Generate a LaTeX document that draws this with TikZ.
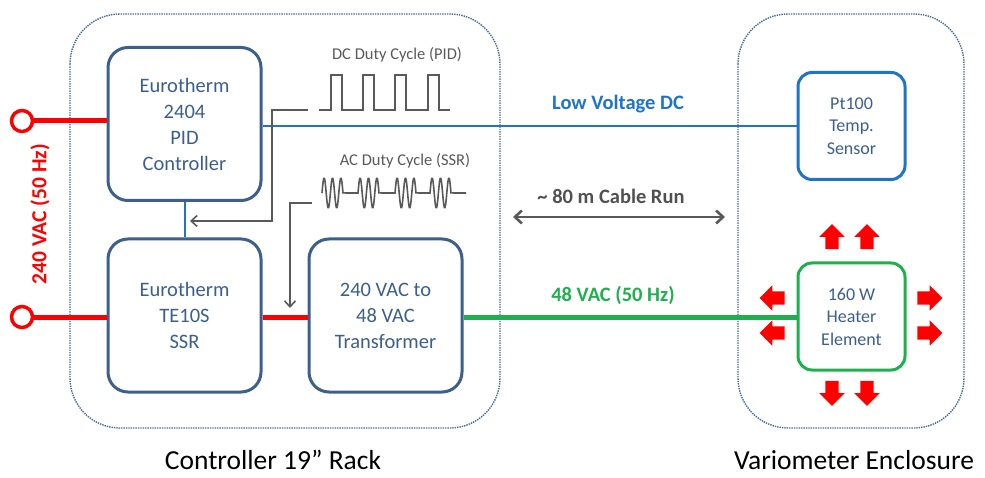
\documentclass[tikz,border=0pt]{standalone}
\usepackage{fontspec}
\setmainfont{Carlito}
\usepackage{xcolor}
\usetikzlibrary{arrows.meta,shapes.arrows}

\definecolor{boxblue}{HTML}{3C5F8C}
\definecolor{dcblue}{HTML}{1E74C6}
\definecolor{acgreen}{HTML}{1DB04C}
\definecolor{wavegray}{HTML}{595959}
\definecolor{rackblue}{HTML}{4A6A96}

\begin{document}
\begin{tikzpicture}[x=1pt,y=-1pt,
  unit/.style={draw=boxblue,line width=3pt,rounded corners=20pt,fill=white,
    text=boxblue,align=center,minimum width=153pt,minimum height=153pt,
    font=\fontsize{20.5}{26}\selectfont},
  field/.style={unit,rounded corners=14pt,minimum width=107pt,minimum height=107pt,
    font=\fontsize{18}{22.5}\selectfont},
  rack/.style={draw=rackblue,line width=1.4pt,densely dotted,rounded corners=50pt},
  wave/.style={draw=wavegray,line width=1.6pt,line join=miter},
  feed/.style={draw=wavegray,line width=1.6pt,-{Straight Barb[length=6pt,width=11pt]}},
  heat/.style={single arrow,fill=red,draw=none,inner sep=6.5pt,minimum height=25pt,
    single arrow head extend=6pt,single arrow head indent=0pt},
  mains/.style={draw=red,line width=5pt},
  tag/.style={font=\fontsize{20.5}{24}\selectfont\bfseries},
  caption/.style={anchor=base,inner sep=0pt,font=\fontsize{27.5}{30}\selectfont}]
\useasboundingbox (0,0) rectangle (985,478);

% enclosures
\draw[rack] (70,14) rectangle (500,428);
\draw[rack] (738,14) rectangle (964,428);
\node[caption] (racklabel) at (273,469) {Controller 19” Rack};
\node[caption] (enclabel) at (854,469) {Variometer Enclosure};

% units
\node[unit] (pid) at (184.5,124) {Eurotherm\\2404\\PID\\Controller};
\node[unit] (ssr) at (184.5,315.5) {Eurotherm\\TE10S\\SSR};
\node[unit] (xfmr) at (385.5,315.5) {240 VAC to\\48 VAC\\Transformer};
\node[field,draw=dcblue] (pt) at (851.5,126) {Pt100\\Temp.\\Sensor};
\node[field,draw=acgreen] (heater) at (851.5,316.5) {160 W\\Heater\\Element};

% mains input
\node[circle,draw=red,line width=3.5pt,minimum size=21pt,inner sep=0pt] (in1) at (22,121) {};
\node[circle,draw=red,line width=3.5pt,minimum size=21pt,inner sep=0pt] (in2) at (22,317) {};
\draw[mains] (in1) -- (in1 -| pid.west);
\draw[mains] (in2) -- (in2 -| ssr.west);
\node[rotate=90,text=red,font=\fontsize{21.5}{24}\selectfont\bfseries] (mainslabel) at (40,214) {240 VAC (50 Hz)};

% wiring
\draw[dcblue,line width=2pt] (pid.south) -- (ssr.north);
\draw[dcblue,line width=2pt] (pid.east |- pt.west) -- (pt.west);
\draw[mains] (ssr.east |- in2) -- (xfmr.west |- in2);
\draw[acgreen,line width=5pt] (xfmr.east |- in2) -- (heater.west |- in2);
\node[tag,text=dcblue] (dclabel) at (618,104) {Low Voltage DC};
\node[tag,text=acgreen] (aclabel) at (613,295) {48 VAC (50 Hz)};

% cable run
\coordinate (runA) at (513,217);
\coordinate (runB) at (725,217);
\draw[wavegray,line width=2.6pt,{Straight Barb[length=7pt,width=13pt]}-{Straight Barb[length=7pt,width=13pt]}] (runA) -- (runB);
\node[tag,text=wavegray!90!black] (runlabel) at (611,196) {\textasciitilde{} 80 m Cable Run};

% duty cycles
\node[text=wavegray,font=\fontsize{16.5}{19}\selectfont] (dclbl) at (397,55) {DC Duty Cycle (PID)};
\draw[wave] (319,110)
  \foreach \u in {331,363,395,428}{ -- (\u,110) -- (\u,75) -- (\u+11,75) -- (\u+11,110)} -- (450,110);
\coordinate (dcfrom) at (308,110);
\draw[feed] (dcfrom) -- (272,110) |- (190,221);

\node[text=wavegray,font=\fontsize{16.5}{19}\selectfont] (aclbl) at (405,161) {AC Duty Cycle (SSR)};
\draw[wave] (322,193)
  \foreach \u in {322,358,395,430}{ -- (\u,193) -- plot[domain=0:1,samples=36,smooth] ({\u+21*\x},{193-15*sin(900*\x)})} -- (466,193);
\coordinate (acfrom) at (312,203);
\draw[feed] (acfrom) -- (290,203) -- (290,308);

% heat
\foreach \dx/\nm in {832/a,867/b}{
  \node[heat,rotate=90] (up\nm) at (\dx,240) {};
  \node[heat,rotate=-90] (dn\nm) at (\dx,390) {};
}
\foreach \dy/\nm in {298/a,333/b}{
  \node[heat,rotate=180] (lt\nm) at (775.5,\dy) {};
  \node[heat] (rt\nm) at (926.5,\dy) {};
}
\end{tikzpicture}
\end{document}
